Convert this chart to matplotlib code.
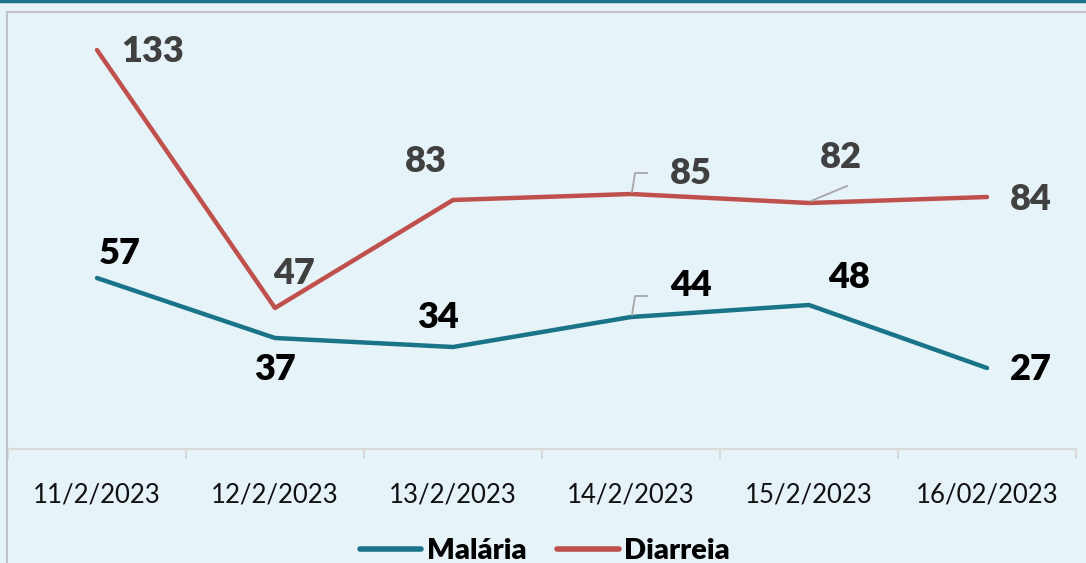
import matplotlib
matplotlib.use("Agg")
import matplotlib.pyplot as plt
from matplotlib.lines import Line2D

categories = ["11/2/2023", "12/2/2023", "13/2/2023", "14/2/2023", "15/2/2023", "16/02/2023"]
malaria = [57, 37, 34, 44, 48, 27]
diarreia = [133, 47, 83, 85, 82, 84]

BG = "#E6F3F8"
TEAL = "#1A7489"
RED = "#C0504D"
GREY_TXT = "#404040"

plt.rcParams['font.family'] = ['Lato', 'DejaVu Sans']

W, H = 1086, 563
fig = plt.figure(figsize=(W / 100, H / 100), dpi=100, facecolor=BG)

def fx(px):
    return px / W

def fy(py):
    return 1 - py / H

ax_left, ax_right = 8, 1076
ax_top, ax_bot = 12, 449
ax = fig.add_axes([fx(ax_left), fy(ax_bot), fx(ax_right - ax_left), (ax_bot - ax_top) / H])
ax.set_facecolor(BG)
n = len(categories)
x = list(range(n))
ax.set_xlim(-0.5, n - 0.5)
ax.set_ylim(0, (ax_bot - ax_top) / 3.0)

ax.plot(x, malaria, color=TEAL, lw=3.2, solid_capstyle='round', solid_joinstyle='round', zorder=3)
ax.plot(x, diarreia, color=RED, lw=3.2, solid_capstyle='round', solid_joinstyle='round', zorder=3)

for s in ['top', 'right', 'left']:
    ax.spines[s].set_visible(False)
ax.spines['bottom'].set_color('#D9D9D9')
ax.spines['bottom'].set_linewidth(1.5)
ax.set_yticks([])
ax.set_xticks([i + 0.5 for i in range(-1, n)], minor=False)
ax.set_xticklabels([])
ax.tick_params(axis='x', which='major', length=7, width=1.5, color='#D9D9D9')
ax.set_xticks(x, minor=True)
ax.set_xticklabels(categories, minor=True, fontsize=18.5, color='#111111')
ax.tick_params(axis='x', which='minor', length=0, pad=24)

# data labels: (offset in px dx, dy) relative to point
lab_kw = dict(fontsize=26, fontweight='heavy', ha='center', va='center', zorder=4)
d_off = [(56, -1), (19, 34), (-27, 38), (60, 21), (32, 45), (44, -3)]
m_off = [(23, 25), (0, -31), (-15, 30), (60, 31), (40, 28), (44, -2)]

for i in range(n):
    ax.annotate(str(diarreia[i]), (x[i], diarreia[i]), xytext=d_off[i], textcoords='offset pixels',
                color=GREY_TXT, **lab_kw)
    ax.annotate(str(malaria[i]), (x[i], malaria[i]), xytext=m_off[i], textcoords='offset pixels',
                color='black', **lab_kw)

def leader(xi, yi, pts):
    base = ax.transData.transform((xi, yi))
    xs = [base[0] + p[0] for p in pts]
    ys = [base[1] + p[1] for p in pts]
    fig.add_artist(Line2D(xs, ys, transform=None, color='#A6A6A6', lw=1.3, zorder=5))

fig.canvas.draw()
leader(3, diarreia[3], [(1, 2), (4, 21), (16, 21)])
leader(3, malaria[3], [(1, 2), (4, 21), (16, 21)])
leader(4, diarreia[4], [(2, 2), (38, 17)])

# frame lines
fig.add_artist(Line2D([0, 1], [fy(1.2), fy(1.2)], color=TEAL, lw=2.5))
fig.add_artist(Line2D([fx(7), 1], [fy(12), fy(12)], color='#C0C4C6', lw=1.5))
fig.add_artist(Line2D([fx(7), fx(7)], [fy(12), 0], color='#C0C4C6', lw=1.5))

# legend
leg_handles = [Line2D([], [], color=TEAL, lw=4, solid_capstyle='round'),
               Line2D([], [], color=RED, lw=4, solid_capstyle='round')]
fig.legend(leg_handles, ["Malária", "Diarreia"], loc='center', bbox_to_anchor=(fx(545), fy(551)),
           ncol=2, frameon=False, prop={'size': 21, 'weight': 'heavy'}, handlelength=2.1,
           handletextpad=0.2, columnspacing=1.05)

fig.savefig("out.png", dpi=100, facecolor=BG)
